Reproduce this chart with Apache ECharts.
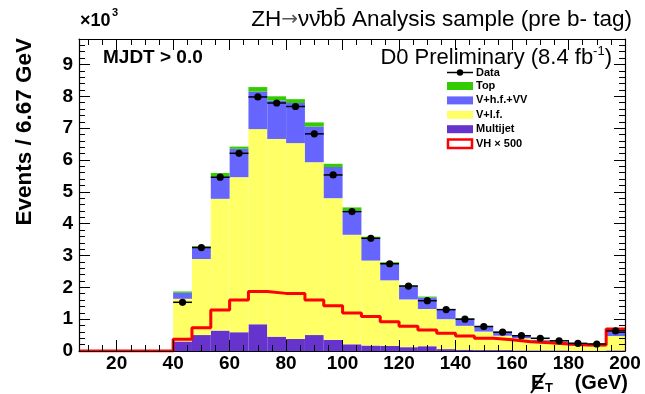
<!DOCTYPE html>
<html><head><meta charset="utf-8">
<script src="https://cdn.jsdelivr.net/npm/echarts@6/dist/echarts.min.js"></script>
<style>html,body{margin:0;padding:0;background:#fff}#c{width:645px;height:394px}</style>
</head><body><div id="c"></div>
<script>
// ---- data (values in units of 10^3 events) ----
const binEdges = [40, 46.667, 53.333, 60, 66.667, 73.333, 80, 86.667, 93.333, 100, 106.667, 113.333, 120, 126.667, 133.333, 140, 146.667, 153.333, 160, 166.667, 173.333, 180, 186.667, 193.333, 200];
const multijet = [0.30,0.50,0.64,0.59,0.84,0.45,0.38,0.50,0.35,0.21,0.17,0.16,0.12,0.15,0.06,0.04,0.03,0.03,0.02,0.02,0.02,0.01,0.01,0.02];
const vlf      = [1.34,2.39,4.14,4.87,6.13,6.21,6.15,5.43,4.45,3.44,2.67,2.06,1.50,1.17,0.94,0.75,0.58,0.45,0.38,0.27,0.20,0.16,0.14,0.45];
const vhfvv    = [0.19,0.35,0.70,0.89,1.18,1.21,1.26,1.12,0.98,0.76,0.68,0.51,0.40,0.36,0.30,0.22,0.15,0.12,0.09,0.05,0.06,0.04,0.03,0.15];
const topq     = [0.04,0.05,0.11,0.07,0.14,0.13,0.12,0.13,0.10,0.10,0.07,0.06,0.04,0.03,0.02,0.02,0.01,0.01,0.01,0.01,0.01,0.01,0.01,0.03];
const dataPts  = [1.53,3.25,5.46,6.21,7.98,7.79,7.68,6.82,5.53,4.38,3.54,2.74,2.04,1.58,1.30,1.00,0.77,0.59,0.48,0.40,0.32,0.24,0.22,0.63];
const vh500    = [0.37,0.73,1.29,1.60,1.87,1.81,1.81,1.60,1.42,1.19,1.08,0.92,0.78,0.66,0.56,0.47,0.40,0.35,0.29,0.26,0.22,0.19,0.19,0.69];
const xMin = 6.667, xMax = 200, yMax = 9.8;
const xMajorTicks = [20,40,60,80,100,120,140,160,180,200];
const xMinorTicks = [10,15,25,30,35,45,50,55,65,70,75,85,90,95,105,110,115,125,130,135,145,150,155,165,170,175,185,190,195];
const yMajorTicks = [0,1,2,3,4,5,6,7,8,9];

const FF = '"Liberation Sans", Arial, Helvetica, sans-serif';
const colors = {mj:'#6633cc', vlf:'#ffff66', vhf:'#6666ff', top:'#33cc00', vh:'#ff0000'};

// stacked rectangles
const comps = [['Multijet', multijet, colors.mj], ['V+l.f.', vlf, colors.vlf], ['V+h.f.+VV', vhfvv, colors.vhf], ['Top', topq, colors.top]];
const base = multijet.map(() => 0);
function rectItem(params, api) {
  const p0 = api.coord([api.value(0), api.value(3)]);
  const p1 = api.coord([api.value(1), api.value(2)]);
  return {type:'rect', shape:{x:p0[0], y:p0[1], width:p1[0]-p0[0], height:p1[1]-p0[1]}, style:{fill: api.visual('color')}};
}
const series = [];
comps.forEach(([name, arr, col]) => {
  const d = arr.map((v, i) => { const r = [binEdges[i], binEdges[i+1], base[i], base[i] + v]; base[i] += v; return r; });
  series.push({type:'custom', name, renderItem: rectItem, data: d, itemStyle:{color: col}, encode:{x:[0,1], y:[2,3]}, z:2, clip:true});
});
// VH x 500 outline
const vhLine = [[xMin, 0]];
vh500.forEach((v, i) => vhLine.push([binEdges[i], v]));
vhLine.push([binEdges[binEdges.length-1], vh500[vh500.length-1]]);
series.push({type:'line', name:'VH x 500', step:'end', data: vhLine, symbol:'none', lineStyle:{color: colors.vh, width:3}, z:3, clip:true});
// data points
series.push({type:'custom', name:'Data', z:4, encode:{x:[0,1], y:2},
  data: dataPts.map((v, i) => [binEdges[i], binEdges[i+1], v]),
  renderItem(params, api) {
    const a = api.coord([api.value(0), api.value(2)]);
    const b = api.coord([api.value(1), api.value(2)]);
    return {type:'group', children:[
      {type:'line', shape:{x1:a[0], y1:a[1], x2:b[0], y2:b[1]}, style:{stroke:'#000', lineWidth:1.5}},
      {type:'circle', shape:{cx:(a[0]+b[0])/2, cy:a[1], r:3.6}, style:{fill:'#000'}}
    ]};
  }});

const lblFont = {fontFamily: FF, fontWeight:'bold', fontSize:19, color:'#000'};
function xAx(pos, major, showLine, showLabel) {
  return {type:'value', min:xMin, max:xMax, position:pos, z:10, splitLine:{show:false},
    axisLine:{show:showLine, onZero:false, lineStyle:{color:'#000', width:1.2}},
    axisTick:{show:true, inside:true, length: major?11:6, customValues: major?xMajorTicks:xMinorTicks, lineStyle:{color:'#000', width:1}},
    axisLabel: showLabel ? Object.assign({customValues:xMajorTicks, margin:3}, lblFont) : {show:false}};
}
function yAx(pos, major, showLine, showLabel) {
  const o = {type:'value', min:0, max:yMax, position:pos, z:10, splitLine:{show:false},
    axisLine:{show:showLine, onZero:false, lineStyle:{color:'#000', width:1.2}},
    axisTick:{show:true, inside:true, length: major?11:6, lineStyle:{color:'#000', width:1}},
    axisLabel: showLabel ? Object.assign({customValues:yMajorTicks, margin:6}, lblFont) : {show:false}};
  if (major) o.axisTick.customValues = yMajorTicks; else o.interval = 0.2;
  return o;
}

const legendItems = [
  {label:'Top', color: colors.top}, {label:'V+h.f.+VV', color: colors.vhf},
  {label:'V+l.f.', color: colors.vlf}, {label:'Multijet', color: colors.mj}];
const lx = 447, lw = 26;
const gr = [];
// legend: Data
gr.push({type:'line', shape:{x1:lx, y1:72.5, x2:lx+lw, y2:72.5}, style:{stroke:'#000', lineWidth:1.5}});
gr.push({type:'circle', shape:{cx:lx+13, cy:72.5, r:3.2}, style:{fill:'#000'}});
gr.push({type:'text', x:476, y:72.5, style:{text:'Data', font:'bold 11px '+FF, fill:'#000', verticalAlign:'middle'}});
legendItems.forEach((it, k) => {
  const cy = 86 + k*14.4;
  gr.push({type:'rect', shape:{x:lx, y:cy-4, width:lw, height:8}, style:{fill: it.color}});
  gr.push({type:'text', x:476, y:cy, style:{text: it.label, font:'bold 11px '+FF, fill:'#000', verticalAlign:'middle'}});
});
gr.push({type:'rect', shape:{x:lx+1, y:139.5, width:lw-2, height:8.5}, style:{fill:'#fff', stroke: colors.vh, lineWidth:2.5}});
gr.push({type:'text', x:476, y:144, style:{text:'VH × 500', font:'bold 11px '+FF, fill:'#000', verticalAlign:'middle'}});
// texts
gr.push({type:'text', x:80, y:21, style:{text:'×10', font:'bold 18px '+FF, fill:'#000', verticalAlign:'middle'}});
gr.push({type:'text', x:112, y:13, style:{text:'3', font:'bold 11px '+FF, fill:'#000', verticalAlign:'middle'}});
gr.push({type:'text', x:632, y:20, style:{text:'{a|ZH}{r|→}{a|νν̄bb̄ Analysis sample (pre b- tag)}', fill:'#000', align:'right', verticalAlign:'middle',
  rich:{a:{font:'22.5px '+FF}, r:{font:'20px "DejaVu Sans"', fill:'#555'}}}});
gr.push({type:'text', x:612, y:58, style:{text:'{n|D0 Preliminary (8.4 fb}{s|-1}{n|)}', fill:'#000', align:'right', verticalAlign:'middle',
  rich:{n:{font:'22px '+FF, lineHeight:26}, s:{font:'13px '+FF, verticalAlign:'top', lineHeight:26}}}});
gr.push({type:'text', x:103, y:58, style:{text:'MJDT > 0.0', font:'bold 19px '+FF, fill:'#000', verticalAlign:'middle'}});
gr.push({type:'text', x:25, y:38, rotation:Math.PI/2, style:{text:'Events / 6.67 GeV', font:'bold 22.5px '+FF, fill:'#000', align:'right', verticalAlign:'middle'}});
// x-axis title: E-slash_T (GeV)
gr.push({type:'text', x:531, y:383, style:{text:'E', font:'bold 20px '+FF, fill:'#000', verticalAlign:'middle'}});
gr.push({type:'line', shape:{x1:531, y1:393, x2:545, y2:373}, style:{stroke:'#000', lineWidth:2}});
gr.push({type:'text', x:545, y:388, style:{text:'T', font:'bold 13px '+FF, fill:'#000', verticalAlign:'middle'}});
gr.push({type:'text', x:628, y:383, style:{text:'(GeV)', font:'bold 20px '+FF, fill:'#000', align:'right', verticalAlign:'middle'}});

const chart = echarts.init(document.getElementById('c'), null, {renderer:'canvas'});
chart.setOption({
  animation:false,
  backgroundColor:'#fff',
  grid:{left:79, right:20, top:39, bottom:43, containLabel:false},
  xAxis:[xAx('bottom', true, true, true), xAx('bottom', false, false, false), xAx('top', true, true, false), xAx('top', false, false, false)],
  yAxis:[yAx('left', true, true, true), yAx('left', false, false, false), yAx('right', true, true, false), yAx('right', false, false, false)],
  series: series,
  graphic: gr
});
</script>
</body></html>
